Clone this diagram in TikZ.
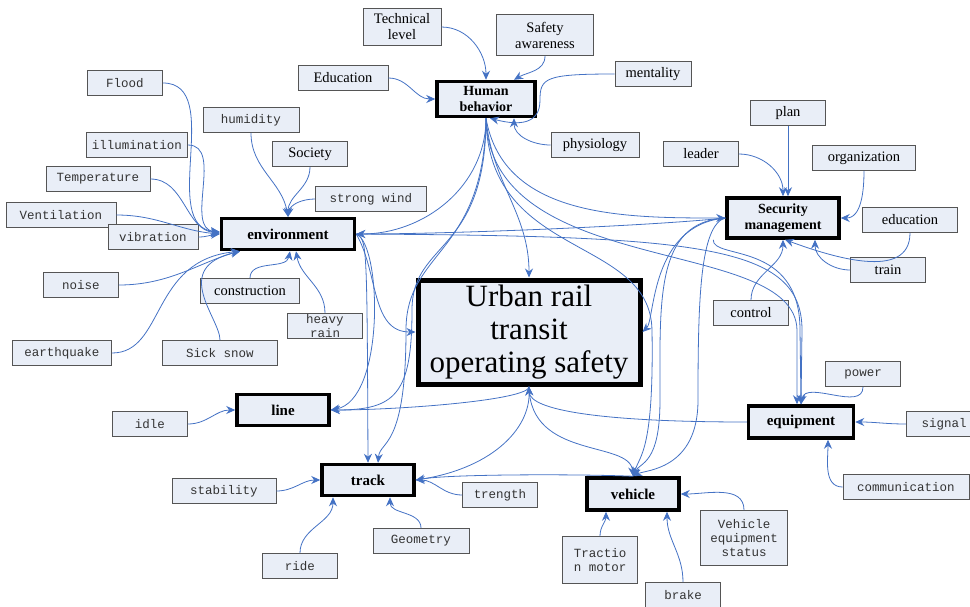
\documentclass[tikz,border=0pt]{standalone}
\usepackage{fontspec}
\setmainfont{Liberation Serif}
\setmonofont{Liberation Mono}
\usetikzlibrary{arrows.meta}
\definecolor{linkblue}{RGB}{68,114,196}
\definecolor{boxfill}{RGB}{233,238,247}
\definecolor{boxgray}{RGB}{85,85,85}

\begin{document}
\begin{tikzpicture}[x=1pt, y=1pt,
  leaf/.style={draw=boxgray, fill=boxfill, line width=0.9pt, minimum width=75pt, minimum height=25pt, inner sep=1pt, align=center, text=black!80, font=\fontsize{12.5}{14}\selectfont\ttfamily},
  leafserif/.style={leaf, text=black, font=\fontsize{14.5}{16}\selectfont},
  factor/.style={draw, line width=3.5pt, fill=boxfill, minimum width=92pt, minimum height=31pt, inner sep=1pt, align=center, font=\fontsize{15}{16}\selectfont\bfseries},
  link/.style={-{Stealth[length=9pt, width=8pt]}, linkblue, line width=0.8pt}]
  \useasboundingbox (0,0) rectangle (970,-606);

  % ===== Human behavior =====
  \node[leafserif, minimum width=78pt, minimum height=37pt] (tech) at (402,-27) {Technical\\level};
  \node[leafserif, minimum width=97pt, minimum height=41pt] (safety) at (545,-35) {Safety\\awareness};
  \node[leafserif, minimum width=90pt] (edu) at (343,-78) {Education};
  \node[leafserif, minimum width=76pt] (ment) at (653,-74) {mentality};
  \node[leafserif, minimum width=88pt] (phys) at (595,-145) {physiology};
  \node[factor, minimum width=98pt, minimum height=35pt, font=\fontsize{14}{16}\selectfont\bfseries] (hb) at (486,-99) {Human\\behavior};

  \draw[link] (tech.east) to[out=0,in=90] (hb.north);
  \draw[link] (safety.south) to[out=-90,in=30] ([xshift=28pt]hb.north);
  \draw[link] (edu.east) to[out=0,in=180] (hb.west);
  \draw[link] (ment.west) .. controls (545,-74) and (540,-78) .. (540,-100) .. controls (540,-124) and (520,-126) .. ([xshift=4pt]hb.south);
  \draw[link] (phys.west) to[out=180,in=-90] ([xshift=28pt]hb.south);

  % ===== Environment =====
  \node[leaf] (flood) at (125,-83) {Flood};
  \node[leaf, minimum width=101pt] (illum) at (137,-145) {illumination};
  \node[leaf, minimum width=96pt] (humid) at (251,-120) {humidity};
  \node[leafserif] (soc) at (310,-154) {Society};
  \node[leaf, minimum width=104pt] (temp) at (98,-179) {Temperature};
  \node[leaf, minimum width=111pt] (wind) at (371,-199) {strong wind};
  \node[leaf, minimum width=110pt] (vent) at (61,-215) {Ventilation};
  \node[leaf, minimum width=90pt] (vib) at (153,-237) {vibration};
  \node[factor, minimum width=133pt] (env) at (288,-234) {environment};
  \node[leaf] (noise) at (81,-285) {noise};
  \node[leafserif, minimum width=99pt] (cons) at (250,-291) {construction};
  \node[leaf, inner sep=0pt] (rain) at (325,-326) {heavy\\rain};
  \node[leaf, minimum width=99pt] (quake) at (62,-353) {earthquake};
  \node[leaf, minimum width=115pt] (snow) at (220,-353) {Sick snow};

  \draw[link] (flood.east) to[out=0,in=175] ([yshift=2pt]env.west);
  \draw[link] (illum.east) to[out=0,in=175] ([yshift=2pt]env.west);
  \draw[link] (temp.east) to[out=0,in=175] ([yshift=1pt]env.west);
  \draw[link] (vent.east) to[out=0,in=175] (env.west);
  \draw[link] (vib.east) to[out=0,in=185] (env.west);
  \draw[link] (humid.south) to[out=-90,in=100] (env.north);
  \draw[link] (soc.south) to[out=-90,in=90] (env.north);
  \draw[link] (wind.west) to[out=180,in=80] (env.north);
  \draw[link] (noise.east) .. controls (170,-285) and (200,-262) .. ([xshift=-48pt]env.south);
  \draw[link] (quake.east) .. controls (165,-353) and (150,-260) .. ([xshift=-48pt]env.south);
  \draw[link] (snow.north) .. controls (220,-318) and (170,-268) .. ([xshift=-48pt]env.south);
  \draw[link] (cons.north) to[out=90,in=-100] ([xshift=2pt]env.south);
  \draw[link] (rain.north) to[out=90,in=-80] ([xshift=8pt]env.south);

  % ===== Security management =====
  \node[leafserif] (plan) at (788,-113) {plan};
  \node[leafserif] (leader) at (701,-154) {leader};
  \node[leafserif, minimum width=103pt] (org) at (864,-158) {organization};
  \node[factor, minimum width=112pt, minimum height=40pt, font=\fontsize{14}{16}\selectfont\bfseries] (sm) at (783,-218) {Security\\management};
  \node[leafserif, minimum width=95pt] (educ) at (910,-220) {education};
  \node[leafserif] (train) at (888,-270) {train};
  \node[leafserif] (ctrl) at (751,-313) {control};

  \draw[link] (plan.south) -- (plan.south |- sm.north);
  \draw[link] (leader.east) to[out=0,in=90] (sm.north);
  \draw[link] (org.south) to[out=-90,in=0] (sm.east);
  \draw[link] (educ.south) to[out=-90,in=-20] ([xshift=2pt]sm.south);
  \draw[link] (train.west) to[out=180,in=-90] ([xshift=32pt]sm.south);
  \draw[link] (ctrl.north) to[out=90,in=-90] (sm.south);

  % ===== Equipment =====
  \node[leaf] (power) at (863,-374) {power};
  \node[factor, minimum width=105pt, minimum height=32pt] (eq) at (801,-422) {equipment};
  \node[leaf] (signal) at (944,-424) {signal};
  \node[leaf, minimum width=126pt] (comm) at (906,-487) {communication};

  \draw[link] (power.south) to[out=-90,in=80] (eq.north);
  \draw[link] (signal.west) to[out=180,in=0] (eq.east);
  \draw[link] (comm.west) to[out=180,in=-90] ([xshift=27pt]eq.south);

  % ===== Line and track =====
  \node[leaf] (idle) at (150,-424) {idle};
  \node[factor] (line) at (283,-410) {line};
  \node[factor] (track) at (368,-480) {track};
  \node[leaf, minimum width=104pt] (stab) at (224,-491) {stability};
  \node[leaf] (treng) at (500,-495) {trength};
  \node[leaf] (ride) at (300,-566) {ride};
  \node[leaf, minimum width=96pt] (geom) at (421,-541) {Geometry};

  \draw[link] (idle.east) to[out=0,in=180] (line.west);
  \draw[link] (stab.east) to[out=0,in=180] (track.west);
  \draw[link] (ride.north) to[out=90,in=-90] ([xshift=-35pt]track.south);
  \draw[link] (geom.north) to[out=90,in=-90] ([xshift=22pt]track.south);
  \draw[link] (treng.west) to[out=180,in=0] (track.east);

  % ===== Vehicle =====
  \node[factor, minimum height=32pt] (veh) at (633,-494) {vehicle};
  \node[leaf, minimum height=47pt] (tract) at (600,-560) {Tractio\\n motor};
  \node[leaf, minimum width=87pt, minimum height=55pt] (ves) at (744,-538) {Vehicle\\equipment\\status};
  \node[leaf] (brake) at (683,-595) {brake};

  \draw[link] (tract.north) to[out=90,in=-90] ([xshift=-27pt]veh.south);
  \draw[link] (brake.north) to[out=90,in=-90] ([xshift=34pt]veh.south);
  \draw[link] (ves.north) to[out=90,in=0] (veh.east);

  % ===== Goal =====
  \node[draw, line width=5pt, fill=boxfill, minimum width=222pt, minimum height=104pt, align=center, font=\fontsize{31}{33}\selectfont] (us) at (529,-332) {Urban rail\\transit\\operating safety};

  % factor to factor links
  \draw[link] (hb.south) to[out=-90,in=0] (env.east);
  \draw[link] (hb.south) to[out=-85,in=90] (us.north);
  \draw[link] (hb.south) to[out=-80,in=180] (sm.west);
  \draw[link] (hb.south) .. controls (486,-255) and (412,-240) .. (412,-310) .. controls (412,-395) and (395,-410) .. (line.east);
  \draw[link] (hb.south) .. controls (484,-255) and (406,-250) .. (406,-330) .. controls (406,-450) and (380,-440) .. ([xshift=10pt]track.north);
  \draw[link] (hb.south) .. controls (488,-260) and (650,-235) .. (652,-330) .. controls (654,-450) and (640,-455) .. (veh.north);
  \draw[link] (hb.south) .. controls (490,-280) and (795,-235) .. (797,-330) -- ([xshift=-4pt]eq.north);
  \draw[link] (env.east) .. controls (382,-245) and (385,-400) .. (line.east);
  \draw[link] (env.east) .. controls (367,-240) .. (track.north);
  \draw[link] (env.east) to[out=-60,in=180] (us.west);
  \draw[link] (env.east) .. controls (700,-236) and (802,-245) .. (802,-330) -- (eq.north);
  \draw[link] (sm.west) .. controls (650,-226) and (450,-234) .. (env.east);
  \draw[link] (sm.west) .. controls (650,-225) and (655,-320) .. (us.east);
  \draw[link] (sm.west) .. controls (655,-222) and (660,-300) .. (660,-400) .. controls (660,-465) and (640,-462) .. (veh.north);
  \draw[link] (sm.west) .. controls (700,-225) and (698,-300) .. (698,-400) .. controls (698,-470) and (645,-470) .. (veh.north);
  \draw[link] ([xshift=-12pt]sm.south west) .. controls (712,-260) and (800,-240) .. (800,-330) -- (eq.north);
  \draw[link] (eq.west) .. controls (600,-422) and (530,-410) .. (us.south);
  \draw[link] (us.south) .. controls (530,-460) and (630,-440) .. (veh.north);
  \draw[link] (track.east) .. controls (490,-470) and (530,-430) .. (us.south);
  \draw[link] (us.south) .. controls (530,-400) and (400,-410) .. (line.east);
  \draw[link] (veh.north) .. controls (580,-474) and (450,-474) .. (track.east);
\end{tikzpicture}
\end{document}
